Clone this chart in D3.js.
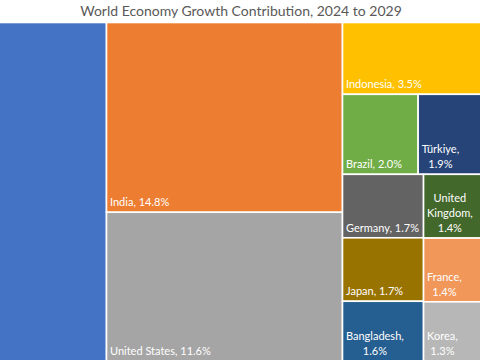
<!DOCTYPE html>
<html>
<head>
<meta charset="utf-8">
<script src="https://cdn.jsdelivr.net/npm/d3@7/dist/d3.min.js"></script>
<style>
  html, body { margin: 0; padding: 0; background: #fff; }
  svg { display: block; }
</style>
</head>
<body>
<svg id="chart" width="480" height="360"></svg>
<script>
// ---- data ----
const countries = ["China", "India", "United States", "Indonesia", "Brazil", "Türkiye",
                   "Germany", "Japan", "Bangladesh", "United Kingdom", "France", "Korea"];
const shares    = [21.2, 14.8, 11.6, 3.5, 2.0, 1.9, 1.7, 1.7, 1.6, 1.4, 1.4, 1.3];
const colors    = ["#4472C4", "#ED7D31", "#A5A5A5", "#FFC000", "#70AD47", "#264478",
                   "#636363", "#997300", "#255E91", "#43682B", "#F1975A", "#B7B7B7"];
const titleText = "World Economy Growth Contribution, 2024 to 2029";

// grouping of the tiles ("row" = side by side, "col" = stacked)
const groupMid   = ["col", ["India", "United States"]];
const groupRow2  = ["row", ["Brazil", "Türkiye"]];
const groupColA  = ["col", ["Germany", "Japan", "Bangladesh"]];
const groupColB  = ["col", ["United Kingdom", "France", "Korea"]];
const groupLower = ["row", [groupColA, groupColB]];
const groupRight = ["col", ["Indonesia", groupRow2, groupLower]];
const groupRoot  = ["row", ["China", groupMid, groupRight]];

// ---- build hierarchy ----
function build(spec) {
  if (typeof spec === "string") {
    const i = countries.indexOf(spec);
    return { name: spec, value: shares[i], color: colors[i] };
  }
  return { dir: spec[0], children: spec[1].map(build) };
}
const root = d3.hierarchy(build(groupRoot)).sum(d => d.value || 0);

const VIEW_W = 480;
// chart plot area (the chart is wider than the view; its left part is cropped)
const plotTop = 22.5, plotH = 338.5;
const midWidth = 236;
const total = root.value;
const midTotal = shares[1] + shares[2];
const plotW = midWidth / midTotal * total;
const plotLeft = 106.5 - shares[0] / total * plotW;

function tile(node, x0, y0, x1, y1) {
  (node.data.dir === "col" ? d3.treemapSlice : d3.treemapDice)(node, x0, y0, x1, y1);
}
d3.treemap().tile(tile).size([plotW, plotH]).round(false)(root);

const svg = d3.select("#chart");
const FONT = "Lato, Carlito, 'Open Sans', sans-serif";

svg.append("text")
  .attr("x", 241).attr("y", 15.5)
  .attr("text-anchor", "middle")
  .attr("font-family", FONT)
  .attr("font-size", 14)
  .attr("fill", "#595959")
  .text(titleText);

const g = svg.append("g").attr("transform", `translate(${plotLeft},${plotTop})`);
const leaves = root.leaves();

g.selectAll("rect").data(leaves).join("rect")
  .attr("x", d => d.x0).attr("y", d => d.y0)
  .attr("width", d => d.x1 - d.x0).attr("height", d => d.y1 - d.y0)
  .attr("fill", d => d.data.color)
  .attr("stroke", "#fff").attr("stroke-width", 1.6);

const fontSize = 11, lineH = 15;
const measure = svg.append("text")
  .attr("font-family", FONT)
  .attr("font-size", fontSize).attr("visibility", "hidden");
function textW(s) { measure.text(s); return measure.node().getComputedTextLength(); }

leaves.forEach(d => {
  if (d.x0 + plotLeft < 0) return; // label lies outside the view
  const label = `${d.data.name}, ${d.data.value.toFixed(1)}%`;
  const visRight = Math.min(d.x1, VIEW_W - plotLeft);
  const maxW = visRight - d.x0 - 6;
  const words = label.split(" ");
  const lines = [];
  let cur = "";
  words.forEach(w => {
    const t = cur ? cur + " " + w : w;
    if (cur && textW(t) > maxW) { lines.push(cur); cur = w; } else cur = t;
  });
  lines.push(cur);
  const blockW = d3.max(lines, textW);
  const multi = lines.length > 1;
  const tx = g.append("text")
    .attr("font-family", FONT)
    .attr("font-size", fontSize)
    .attr("fill", "#fff")
    .attr("text-anchor", multi ? "middle" : "start");
  lines.forEach((ln, k) => {
    tx.append("tspan")
      .attr("x", multi ? d.x0 + 3.5 + blockW / 2 : d.x0 + 3.5)
      .attr("y", d.y1 - 6 - (lines.length - 1 - k) * lineH)
      .text(ln);
  });
});
measure.remove();
</script>
</body>
</html>
